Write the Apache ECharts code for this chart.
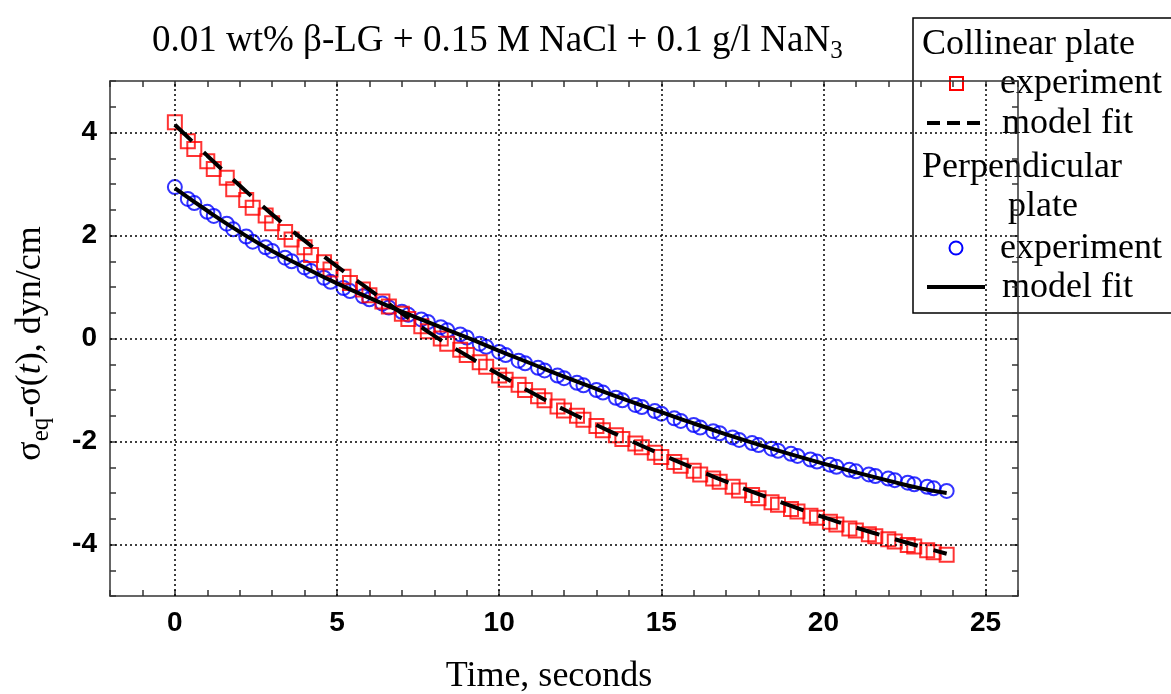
<!DOCTYPE html>
<html>
<head>
<meta charset="utf-8">
<script src="https://cdn.jsdelivr.net/npm/echarts@6/dist/echarts.min.js"></script>
<style>
html,body{margin:0;padding:0;background:#fff;}
#chart{width:1171px;height:694px;}
</style>
</head>
<body>
<div id="chart"></div>
<script>
// time points (s), shared by both experiments
var times = [0, 0.4, 0.6, 1.0, 1.2, 1.6, 1.8, 2.2, 2.4, 2.8, 3.0, 3.4, 3.6, 4.0, 4.2, 4.6, 4.8, 5.2, 5.4, 5.8,
  6.0, 6.4, 6.6, 7.0, 7.2, 7.6, 7.8, 8.2, 8.4, 8.8, 9.0, 9.4, 9.6, 10.0, 10.2, 10.6, 10.8, 11.2, 11.4, 11.8,
  12.0, 12.4, 12.6, 13.0, 13.2, 13.6, 13.8, 14.2, 14.4, 14.8, 15.0, 15.4, 15.6, 16.0, 16.2, 16.6, 16.8, 17.2, 17.4, 17.8,
  18.0, 18.4, 18.6, 19.0, 19.2, 19.6, 19.8, 20.2, 20.4, 20.8, 21.0, 21.4, 21.6, 22.0, 22.2, 22.6, 22.8, 23.2, 23.4, 23.8];

// Collinear plate experiment (red squares)
var collinearExp = [4.20, 3.83, 3.68, 3.44, 3.29, 3.12, 2.90, 2.69, 2.54, 2.39, 2.24, 2.07, 1.92, 1.77, 1.62, 1.48, 1.34, 1.20, 1.08, 0.95,
  0.84, 0.72, 0.62, 0.48, 0.38, 0.24, 0.14, 0.00, -0.10, -0.22, -0.32, -0.46, -0.55, -0.72, -0.80, -0.90, -1.00, -1.12, -1.20, -1.32,
  -1.40, -1.50, -1.58, -1.70, -1.78, -1.88, -1.95, -2.04, -2.11, -2.22, -2.30, -2.40, -2.47, -2.57, -2.64, -2.72, -2.78, -2.88, -2.95, -3.04,
  -3.10, -3.18, -3.23, -3.31, -3.36, -3.44, -3.48, -3.56, -3.61, -3.69, -3.73, -3.80, -3.84, -3.90, -3.94, -4.01, -4.04, -4.11, -4.15, -4.20];

// Perpendicular plate experiment (blue circles)
var perpendicularExp = [2.94, 2.71, 2.63, 2.46, 2.38, 2.23, 2.12, 1.98, 1.88, 1.77, 1.70, 1.57, 1.50, 1.38, 1.31, 1.18, 1.10, 0.98, 0.92, 0.82,
  0.76, 0.68, 0.60, 0.52, 0.46, 0.37, 0.32, 0.22, 0.16, 0.08, 0.02, -0.10, -0.16, -0.26, -0.32, -0.43, -0.48, -0.57, -0.62, -0.72,
  -0.77, -0.86, -0.91, -1.00, -1.05, -1.15, -1.20, -1.29, -1.33, -1.41, -1.46, -1.55, -1.60, -1.68, -1.73, -1.80, -1.84, -1.92, -1.97, -2.03,
  -2.07, -2.14, -2.18, -2.24, -2.28, -2.35, -2.39, -2.45, -2.49, -2.55, -2.58, -2.64, -2.67, -2.72, -2.75, -2.80, -2.83, -2.88, -2.91, -2.96];

// model fits
var fitTimes = [0, 1, 2, 3, 4, 5, 6, 7, 8, 9, 10, 11, 12, 13, 14, 15, 16, 17, 18, 19, 20, 21, 22, 23, 23.8];
var collinearFit = [4.15, 3.55, 2.97, 2.41, 1.90, 1.40, 0.95, 0.49, 0.05, -0.33, -0.70, -1.05, -1.38, -1.68, -1.97, -2.25, -2.52, -2.78, -3.02, -3.25, -3.47, -3.67, -3.86, -4.04, -4.18];
var perpendicularFit = [2.92, 2.48, 2.07, 1.70, 1.38, 1.07, 0.79, 0.52, 0.27, 0.02, -0.24, -0.49, -0.74, -0.98, -1.21, -1.43, -1.65, -1.86, -2.06, -2.25, -2.43, -2.60, -2.76, -2.91, -3.00];

// grid line positions
var xGridValues = [0, 5, 10, 15, 20, 25];
var yGridValues = [-4, -2, 0, 2, 4];

function zip(a, b) { return a.map(function (v, i) { return [v, b[i]]; }); }

var SERIF = "'Liberation Serif','Times New Roman',serif";
var SANS = "'Liberation Sans',Arial,sans-serif";
var FS = 37;
var LFS = 36;
var frameLine = { show: true, onZero: false, lineStyle: { color: '#333', width: 1.5 } };
var tickIn = { show: true, inside: true, length: 6, lineStyle: { color: '#333', width: 1.5 } };

var chart = echarts.init(document.getElementById('chart'), null, { renderer: 'canvas' });

var gridLineData = xGridValues.map(function (v) { return { xAxis: v }; })
  .concat(yGridValues.map(function (v) { return { yAxis: v }; }));

function legendText(x, y, t) {
  return { type: 'text', x: x, y: y, style: { text: t, font: LFS + 'px ' + SERIF, fill: '#000', textVerticalAlign: 'middle' } };
}

var option = {
  animation: false,
  backgroundColor: '#fff',
  title: {
    text: '0.01 wt% β-LG + 0.15 M NaCl + 0.1 g/l NaN{sub|3}',
    left: 147, top: 13,
    textStyle: {
      fontFamily: SERIF, fontSize: FS, fontWeight: 'normal', color: '#000', lineHeight: 46,
      rich: { sub: { fontFamily: SERIF, fontSize: 25, lineHeight: 24, verticalAlign: 'bottom', color: '#000' } }
    }
  },
  grid: { left: 110, right: 153, top: 81, bottom: 98, containLabel: false, outerBoundsMode: 'none' },
  xAxis: [{
    type: 'value', min: -2, max: 26, interval: 1, position: 'bottom',
    axisLine: frameLine, axisTick: tickIn,
    axisLabel: {
      formatter: function (v) { return (v >= 0 && v % 5 === 0) ? String(v) : ''; },
      fontFamily: SANS, fontWeight: 'bold', fontSize: 28, color: '#000', margin: 13
    },
    splitLine: { show: false }
  }, {
    type: 'value', min: -2, max: 26, interval: 1, position: 'top',
    axisLine: frameLine, axisTick: tickIn, axisLabel: { show: false }, splitLine: { show: false }
  }],
  yAxis: [{
    type: 'value', min: -5, max: 5, interval: 0.5, position: 'left',
    axisLine: frameLine, axisTick: tickIn,
    axisLabel: {
      formatter: function (v) { return (Math.abs(v) <= 4 && Math.round(v) === v && v % 2 === 0) ? String(v) : ''; },
      fontFamily: SANS, fontWeight: 'bold', fontSize: 28, color: '#000', margin: 13
    },
    splitLine: { show: false },
    name: 'σ{sub|eq}-σ({it|t}), dyn/cm',
    nameLocation: 'middle', nameRotate: 90, nameGap: 56,
    nameTextStyle: {
      fontFamily: SERIF, fontSize: LFS, color: '#000', lineHeight: 46, padding: [0, 10, 0, 0],
      rich: {
        sub: { fontFamily: SERIF, fontSize: 25, lineHeight: 24, verticalAlign: 'bottom', color: '#000' },
        it: { fontFamily: SERIF, fontSize: LFS, fontStyle: 'italic', color: '#000' }
      }
    }
  }, {
    type: 'value', min: -5, max: 5, interval: 0.5, position: 'right',
    axisLine: frameLine, axisTick: tickIn, axisLabel: { show: false }, splitLine: { show: false }
  }],
  series: [{
    name: 'Perpendicular plate experiment',
    type: 'scatter', z: 2,
    data: zip(times, perpendicularExp),
    symbol: 'circle', symbolSize: 14,
    itemStyle: { color: 'rgba(0,0,0,0)', borderColor: '#0000ff', borderWidth: 2 },
    markLine: {
      silent: true, symbol: ['none', 'none'], label: { show: false }, animation: false,
      lineStyle: { type: [2, 3], color: '#000', width: 1.5 },
      data: gridLineData
    }
  }, {
    name: 'Collinear plate experiment',
    type: 'scatter', z: 3,
    data: zip(times, collinearExp),
    symbol: 'rect', symbolSize: 14,
    itemStyle: { color: 'rgba(0,0,0,0)', borderColor: '#ff0000', borderWidth: 2 }
  }, {
    name: 'Perpendicular plate model fit',
    type: 'line', z: 4, smooth: true, showSymbol: false,
    data: zip(fitTimes, perpendicularFit),
    lineStyle: { color: '#000', width: 4 }
  }, {
    name: 'Collinear plate model fit',
    type: 'line', z: 5, smooth: true, showSymbol: false,
    data: zip(fitTimes, collinearFit),
    lineStyle: { color: '#000', width: 4, type: [24, 16] }
  }],
  graphic: [{
    type: 'group', z: 100,
    children: [
      { type: 'rect', shape: { x: 913, y: 18, width: 280, height: 295 }, style: { fill: '#fff', stroke: '#000', lineWidth: 1.5 } },
      legendText(922, 45, 'Collinear plate'),
      { type: 'rect', shape: { x: 950, y: 77, width: 13, height: 13 }, style: { fill: 'none', stroke: '#ff0000', lineWidth: 2 } },
      legendText(1000, 84, 'experiment'),
      { type: 'line', shape: { x1: 927, y1: 123, x2: 982, y2: 123 }, style: { stroke: '#000', lineWidth: 4, lineDash: [13, 7] } },
      legendText(1002, 124, 'model fit'),
      legendText(922, 168, 'Perpendicular'),
      legendText(1008, 207, 'plate'),
      { type: 'circle', shape: { cx: 956, cy: 248, r: 6.5 }, style: { fill: 'none', stroke: '#0000ff', lineWidth: 2 } },
      legendText(1000, 249, 'experiment'),
      { type: 'line', shape: { x1: 927, y1: 287, x2: 985, y2: 287 }, style: { stroke: '#000', lineWidth: 4 } },
      legendText(1002, 288, 'model fit')
    ]
  }, {
    type: 'text', z: 100, x: 549, y: 677,
    style: { text: 'Time, seconds', font: LFS + 'px ' + SERIF, fill: '#000', textAlign: 'center', textVerticalAlign: 'middle' }
  }]
};
chart.setOption(option);
</script>
</body>
</html>
